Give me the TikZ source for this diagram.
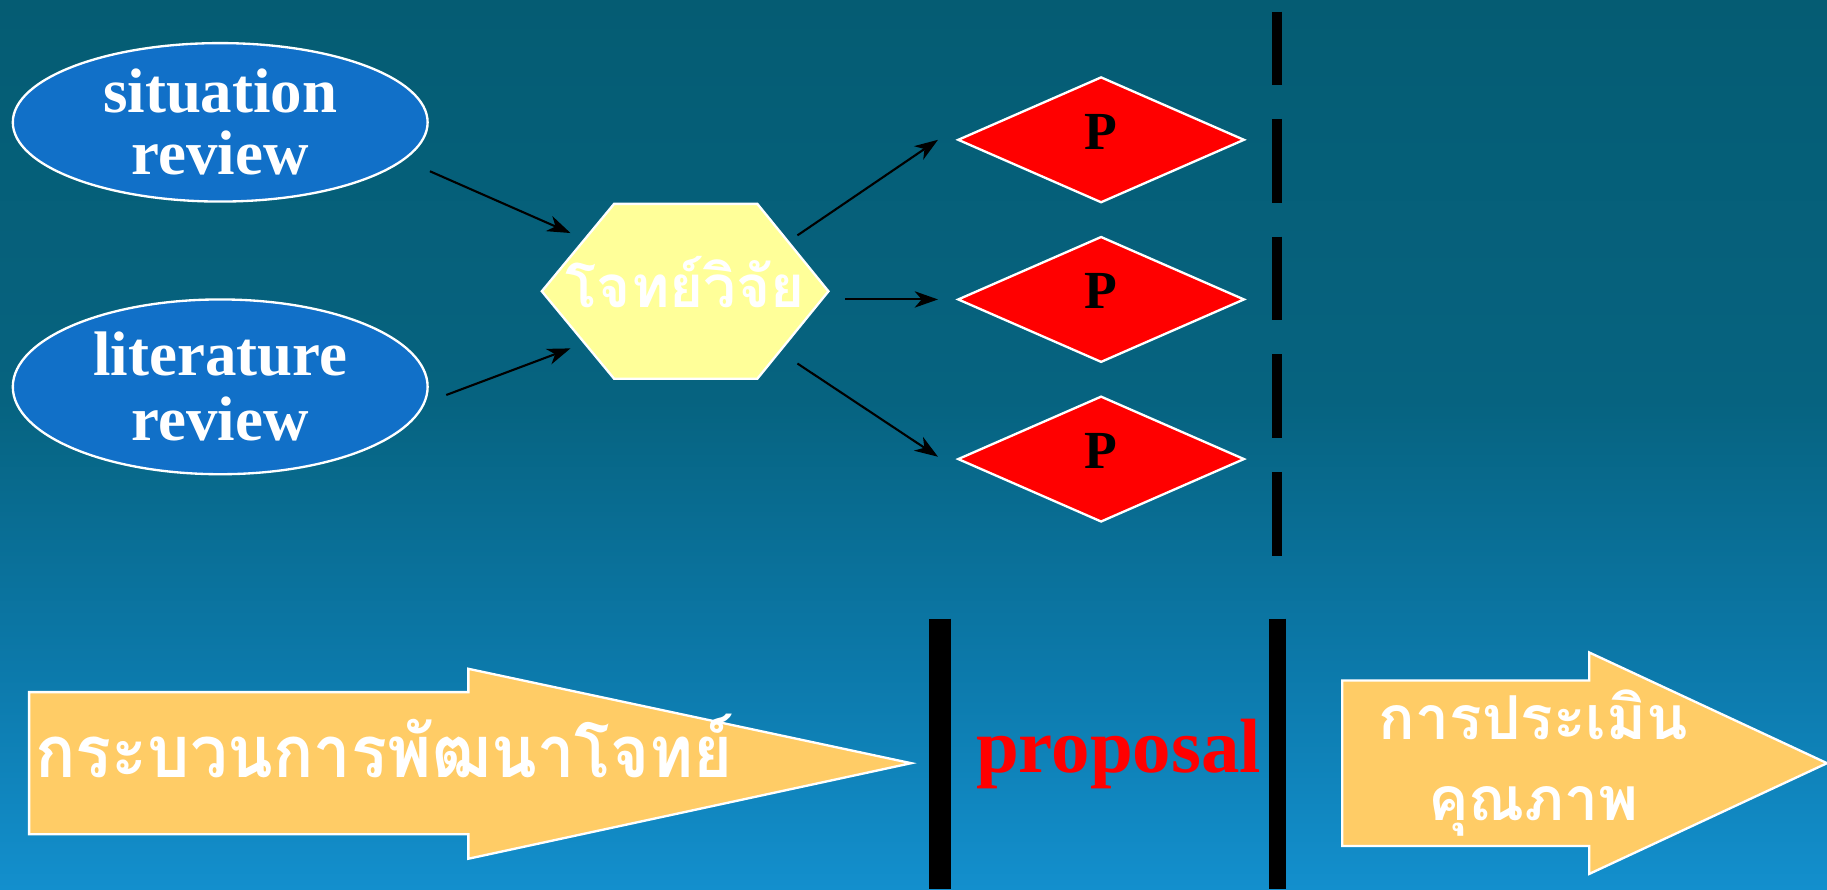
\documentclass[tikz,border=0pt]{standalone}
\usepackage{fontspec}
\setmainfont{Liberation Serif}
\newfontfamily\thaifont[Script=Thai]{Loma}
\usetikzlibrary{shapes.geometric,arrows.meta}
\definecolor{bgtop}{RGB}{5,92,115}
\definecolor{bgmid}{RGB}{6,99,128}
\definecolor{bglow}{RGB}{12,121,170}
\definecolor{bgbot}{RGB}{19,143,205}
\definecolor{ellblue}{RGB}{17,112,200}
\definecolor{hexyellow}{RGB}{255,255,153}
\definecolor{arrorange}{RGB}{255,204,102}
\pgfdeclareverticalshading{bgshade}{100bp}{color(0bp)=(bgbot); color(25bp)=(bgbot); color(37.5bp)=(bglow); color(52.5bp)=(bgmid); color(75bp)=(bgtop); color(100bp)=(bgtop)}
\begin{document}
\begin{tikzpicture}[x=0.5pt,y=-0.5pt,
  ell/.style={ellipse, draw=white, line width=1pt, fill=ellblue, text=white, align=center, inner sep=0pt,
    font=\bfseries\fontsize{27}{26.5}\selectfont},
  dia/.style={diamond, draw=white, line width=1pt, fill=red, text=black, inner sep=0pt,
    minimum width=123pt, minimum height=54pt, text depth=7pt,
    font=\bfseries\fontsize{23}{23}\selectfont},
  hexbox/.style={rectangle, draw=none, minimum width=123pt, minimum height=75pt, inner sep=0pt},
  thaiw/.style={text=white, inner sep=0pt, font=\thaifont\bfseries},
  arr/.style={draw=black, line width=0.9pt, -{Stealth[length=10pt,width=7pt,inset=3pt]}},
  bigarrow/.style={fill=arrorange, draw=white, line width=1pt},
  sep/.style={draw=black, line cap=butt}
]
\useasboundingbox (0,0) rectangle (1568,763);
\shade[shading=bgshade] (0,0) rectangle (1568,763);

% ellipses
\node[ell, minimum width=178pt, minimum height=68pt] (s1) at (189,105) {situation\\review};
\node[ell, minimum width=178pt, minimum height=75pt, font=\bfseries\fontsize{27}{28}\selectfont] (s2) at (189,332) {literature\\review};

% hexagon
\filldraw[fill=hexyellow, draw=white, line width=1pt] (465,250) -- (527,175) -- (650,175) -- (711,250) -- (650,325) -- (527,325) -- cycle;
\node[hexbox] (hex) at (588,250) {};
\node[thaiw, anchor=base, font=\thaifont\bfseries\fontsize{25}{25}\selectfont] (hext) at (588,264) {โจทย์วิจัย};

% diamonds
\node[dia] (d1) at (945,120) {P};
\node[dia] (d2) at (945,257) {P};
\node[dia] (d3) at (945,394) {P};

% connectors
\draw[arr] ([shift={(1,42)}]s1.east) -- ([shift={(25,-50)}]hex.west);
\draw[arr] ([shift={(15,7)}]s2.east) -- ([shift={(25,49)}]hex.west);
\draw[arr] ([shift={(-27,-48)}]hex.east) -- ([shift={(-16,0)}]d1.west);
\draw[arr] ([shift={(14,7)}]hex.east) -- ([shift={(-16,0)}]d2.west);
\draw[arr] ([shift={(-27,62)}]hex.east) -- ([shift={(-16,-2)}]d3.west);

% dashed separator
\draw[sep, line width=4.3pt, dash pattern=on 36pt off 14.5pt, dash phase=4.5pt] (1096,10) -- (1096,477);

% solid separators
\draw[sep, line width=9.4pt] (807,531) -- (807,763);
\draw[sep, line width=7.3pt] (1096,531) -- (1096,763);

% big arrows
\filldraw[bigarrow] (25,594) -- (402,594) -- (402,574) -- (782,655) -- (402,737) -- (402,716) -- (25,716) -- cycle;
\node[thaiw, anchor=base west, font=\thaifont\bfseries\fontsize{31}{31}\selectfont] (t1) at (30,667) {\scalebox{0.925}[1]{กระบวนการพัฒนาโจทย์}};

\node[anchor=base, text=red, inner sep=0pt, font=\bfseries\fontsize{33}{33}\selectfont] (prop) at (960,663) {proposal};

\filldraw[bigarrow] (1152,584) -- (1364,584) -- (1364,560) -- (1568,655) -- (1364,750) -- (1364,726) -- (1152,726) -- cycle;
\node[thaiw, align=center, font=\thaifont\bfseries\fontsize{26}{34.5}\selectfont] (t2) at (1316,655) {การประเมิน\\คุณภาพ};
\end{tikzpicture}
\end{document}
